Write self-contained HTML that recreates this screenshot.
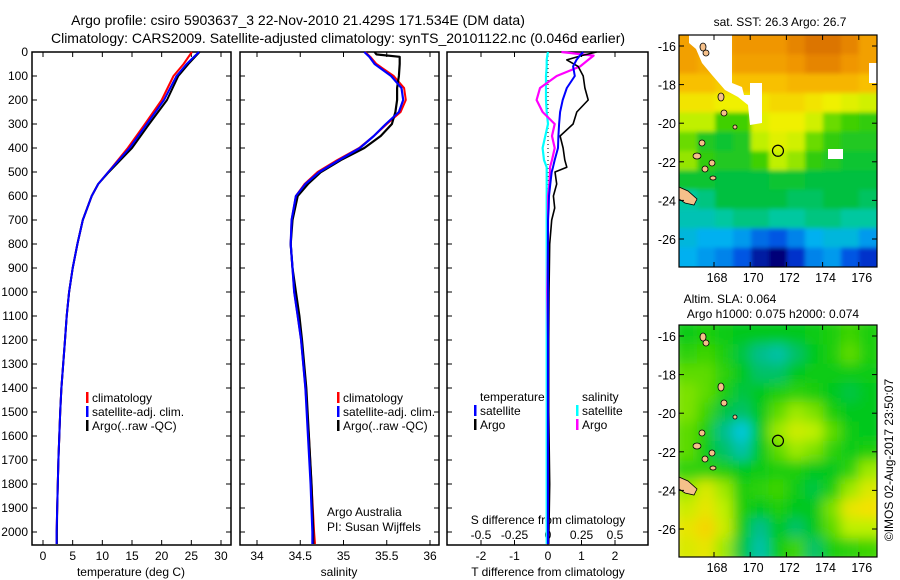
<!DOCTYPE html>
<html><head><meta charset="utf-8"><style>
body{margin:0;background:#fff}
svg{display:block;font-family:"Liberation Sans",sans-serif}
</style></head><body>
<svg id="c" width="900" height="580" viewBox="0 0 900 580"></svg>
<script>
// ---------- profile data ----------
const depthsT = [0,50,100,200,300,400,500,550,600,700,800,900,1000,1100,1200,1300,1400,1500,1600,1700,1800,1900,2000,2050];
const tempArgo = [26.4,24.5,22.8,20.9,17.9,15.0,11.1,9.3,8.2,6.7,5.8,5.0,4.4,4.0,3.7,3.4,3.1,2.9,2.75,2.6,2.5,2.4,2.35,2.35];
const tempClim = [25.1,23.7,22.0,20.0,17.2,14.3,11.0,9.3,8.2,6.7,5.8,5.0,4.4,4.0,3.7,3.4,3.1,2.9,2.75,2.6,2.5,2.4,2.3,2.3];
const tempSat  = [26.3,24.2,22.5,20.4,17.5,14.6,11.0,9.3,8.2,6.7,5.8,5.0,4.4,4.0,3.7,3.4,3.1,2.9,2.75,2.6,2.5,2.4,2.3,2.3];
const depthsS = [0,10,20,50,100,150,200,250,300,350,400,450,500,550,600,700,800,900,1000,1100,1200,1400,1600,1800,2000,2050];
const salArgo = [35.36,35.38,35.65,35.65,35.64,35.62,35.62,35.60,35.56,35.43,35.24,34.97,34.74,34.59,34.47,34.41,34.39,34.41,34.45,34.49,34.52,34.57,34.60,34.63,34.65,34.65];
const salClim = [35.25,35.28,35.31,35.38,35.58,35.70,35.72,35.66,35.50,35.35,35.18,34.93,34.70,34.55,34.45,34.40,34.39,34.41,34.43,34.47,34.51,34.56,34.60,34.63,34.66,34.67];
const salSat  = [35.24,35.27,35.30,35.36,35.55,35.67,35.69,35.64,35.49,35.35,35.19,34.95,34.72,34.56,34.45,34.40,34.39,34.41,34.43,34.47,34.51,34.56,34.59,34.62,34.64,34.64];
const depthsD = [0,15,33,60,100,150,200,250,300,350,400,450,480,500,550,600,650,700,800,1000,1200,1500,1800,2050];
const dTArgo = [1.45,1.0,0.56,0.9,1.05,1.1,1.2,0.86,0.75,0.36,0.45,0.5,0.56,0.21,0.26,0.16,0.2,0.11,0.05,0.03,0.02,0.02,0.05,0.02];
const dTSat  = [1.05,0.95,0.85,0.75,0.8,0.56,0.44,0.36,0.33,0.31,0.3,0.2,0.15,0.11,0.07,0.03,0.02,0.0,0.0,0.0,0.0,0.0,0.0,0.0];
const dSArgo = [0.1,0.34,0.3,0.24,0.065,-0.06,-0.085,-0.04,0.05,0.03,0.05,0.03,0.015,0.015,0.01,0.0,0.0,0.0,0.0,-0.005,0.0,0.0,0.0,0.0];
const dSSat  = [0.0,-0.005,-0.01,-0.01,-0.015,-0.015,-0.015,-0.01,0.0,-0.02,-0.04,-0.03,-0.01,-0.01,-0.01,-0.01,-0.01,-0.01,-0.01,-0.01,-0.01,-0.01,-0.01,-0.01];
const depthTicks = [0,100,200,300,400,500,600,700,800,900,1000,1100,1200,1300,1400,1500,1600,1700,1800,1900,2000];
const tempTicks = [0,5,10,15,20,25,30];
const salTicks = [34,34.5,35,35.5,36];
const dTTicks = [-2,-1,0,1,2];
const dSTicks = [-0.5,-0.25,0,0.25,0.5];
// ---------- map data ----------
const latTicks = [-16,-18,-20,-22,-24,-26];
const lonTicks = [168,170,172,174,176];
const sstGrid = [
 [27.3,27.3,27.3,27.4,27.4,27.4,27.5,27.6,27.6,27.5,27.3],
 [27.3,27.2,27.2,27.3,27.3,27.3,27.4,27.5,27.5,27.4,27.3],
 [27.0,27.0,26.9,27.0,27.0,27.0,27.1,27.1,27.1,27.1,27.0],
 [26.7,26.7,26.6,26.6,26.7,26.8,26.8,26.7,26.6,26.5,26.4],
 [26.3,26.3,26.0,26.0,26.5,26.6,26.6,26.4,26.1,26.0,25.9],
 [26.1,25.8,25.7,25.8,26.3,26.5,26.4,26.1,25.9,25.8,25.8],
 [26.2,25.9,25.8,25.8,26.0,26.3,26.2,25.9,25.8,25.7,25.7],
 [25.7,25.7,25.6,25.6,25.6,25.7,25.7,25.6,25.6,25.6,25.6],
 [25.3,25.4,25.6,25.6,25.6,25.6,25.5,25.5,25.6,25.6,25.5],
 [25.2,25.2,25.3,25.4,25.4,25.3,25.3,25.4,25.4,25.3,25.3],
 [25.0,24.9,24.9,24.8,24.6,24.5,24.7,24.9,25.0,25.0,24.8],
 [24.9,24.8,24.7,24.5,24.1,23.9,24.3,24.7,24.8,24.5,24.3]];
const slaGrid = [
 [.06,.07,.06,.05,.05,.05,.05,.06,.07,.09,.07],
 [.08,.09,.07,.04,.02,.01,.03,.05,.07,.10,.07],
 [.10,.10,.08,.05,.03,.03,.05,.06,.06,.06,.06],
 [.11,.10,.07,.04,.05,.07,.08,.07,.05,.04,.05],
 [.11,.09,.04,.03,.05,.10,.12,.11,.07,.05,.05],
 [.10,.07,.02,-.01,.05,.12,.14,.13,.10,.06,.05],
 [.10,.06,.03,.01,.05,.10,.12,.11,.08,.06,.07],
 [.08,.08,.07,.05,.06,.07,.07,.05,.05,.08,.12],
 [.12,.15,.12,.07,.08,.09,.06,.04,.07,.12,.15],
 [.14,.16,.13,.07,.05,.07,.05,.05,.11,.16,.17],
 [.16,.18,.14,.06,.02,.05,.03,.05,.10,.13,.13],
 [.15,.16,.12,.04,.01,.06,.09,.03,.07,.08,.09]];
const argoLon = 171.534, argoLat = -21.429;

const NS="http://www.w3.org/2000/svg";
const svg=document.getElementById('c');
function el(tag,attrs,parent){const e=document.createElementNS(NS,tag);for(const k in attrs)e.setAttribute(k,attrs[k]);(parent||svg).appendChild(e);return e;}
function txt(s,x,y,anchor,size,parent){const t=el('text',{x:x,y:y,'text-anchor':anchor||'start','font-size':size||12,fill:'#000'},parent);t.textContent=s;return t;}

const yTop=52, yPx=0.24;
const yD=d=>yTop+d*yPx;
const P1={l:32,r:231}, P2={l:240,r:439}, P3={l:447,r:648}, bottom=545;
const xT=v=>43+v*5.933;
const xS=v=>257+(v-34)*86.5;
const xDT=v=>548+v*33.5;
const xDS=v=>548+v*134;

let t=txt('Argo profile: csiro 5903637_3 22-Nov-2010 21.429S 171.534E (DM data)',298,25,'middle',14);

t=txt('Climatology: CARS2009. Satellite-adjusted climatology: synTS_20101122.nc (0.046d earlier)',338,43,'middle',14);


function panel(P,name){
  const g=el('g',{});
  
  
  el('rect',{x:P.l,y:yTop,width:P.r-P.l,height:bottom-yTop,fill:'none',stroke:'#000','stroke-width':1.5},g);
  depthTicks.forEach(d=>{
    el('line',{x1:P.l,x2:P.l+5,y1:yD(d),y2:yD(d),stroke:'#000'},g);
    el('line',{x1:P.r-5,x2:P.r,y1:yD(d),y2:yD(d),stroke:'#000'},g);
  });
  return g;
}
function xticks(g,ticks,fx,labels,ly){
  ticks.forEach(v=>{
    const x=fx(v);
    el('line',{x1:x,x2:x,y1:bottom,y2:bottom-5,stroke:'#000'},g);
    el('line',{x1:x,x2:x,y1:yTop,y2:yTop+5,stroke:'#000'},g);
    if(labels) txt(String(v),x,ly||560,'middle',12,g);
  });
}
function line(g,xs,ds,fx,color,w,name){
  const pts=xs.map((v,i)=>fx(v).toFixed(1)+','+yD(ds[i]).toFixed(1)).join(' ');
  const p=el('polyline',{points:pts,fill:'none',stroke:color,'stroke-width':w||2,'stroke-linejoin':'round'},g);
  
  
  return p;
}
function legend(g,x,y,items){
  items.forEach((it,i)=>{
    if(it[1]) el('rect',{x:x,y:y+i*14-10,width:2.5,height:11,fill:it[1]},g);
    txt(it[0],x+6,y+i*14,'start',12,g);
  });
}

const g1=panel(P1,'temperature-panel');
depthTicks.forEach(d=>txt(String(d),28,yD(d)+4,'end',12,g1));
xticks(g1,tempTicks,xT,true);
txt('temperature (deg C)',131,576,'middle',12,g1);
line(g1,tempClim,depthsT,xT,'#f00',2,'temp-climatology-line');
line(g1,tempArgo,depthsT,xT,'#000',2,'temp-argo-line');
line(g1,tempSat,depthsT,xT,'#00f',2,'temp-satellite-line');
legend(g1,86,402,[['climatology','#f00'],['satellite-adj. clim.','#00f'],['Argo(..raw -QC)','#000']]);

const g2=panel(P2,'salinity-panel');
xticks(g2,salTicks,xS,true);
txt('salinity',339,576,'middle',12,g2);
line(g2,salClim,depthsS,xS,'#f00',2,'sal-climatology-line');
line(g2,salArgo,depthsS,xS,'#000',2.2,'sal-argo-line');
line(g2,salSat,depthsS,xS,'#00f',2.2,'sal-satellite-line');
legend(g2,337,402,[['climatology','#f00'],['satellite-adj. clim.','#00f'],['Argo(..raw -QC)','#000']]);
txt('Argo Australia',327,516,'start',12,g2);
txt('PI: Susan Wijffels',327,531,'start',12,g2);

const g3=panel(P3,'difference-panel');
xticks(g3,dTTicks,xDT,true);
dSTicks.forEach(v=>txt(String(v),xDS(v),539,'middle',12,g3));
txt('S difference from climatology',548,524,'middle',12,g3);
txt('T difference from climatology',548,576,'middle',12,g3);
el('line',{x1:548,x2:548,y1:yTop,y2:bottom,stroke:'#000','stroke-dasharray':'1,3'},g3);
line(g3,dSSat,depthsD,xDS,'#0ff',2.2,'sal-diff-satellite-line');
line(g3,dSArgo,depthsD,xDS,'#f0f',2.2,'sal-diff-argo-line');
line(g3,dTArgo,depthsD,xDT,'#000',1.6,'temp-diff-argo-line');
line(g3,dTSat,depthsD,xDT,'#00f',2,'temp-diff-satellite-line');
legend(g3,474,401,[['temperature',null],['satellite','#00f'],['Argo','#000']]);
legend(g3,576,401,[['salinity',null],['satellite','#0ff'],['Argo','#f0f']]);

// ---------- maps ----------
const sstStops=[[23.9,[0,0,120]],[24.4,[0,64,224]],[24.9,[0,176,240]],[25.3,[0,200,160]],[25.6,[0,192,64]],[26.0,[64,208,0]],[26.3,[192,240,0]],[26.6,[240,240,0]],[27.0,[248,192,0]],[27.4,[240,150,0]],[27.7,[210,100,0]]];
const slaStops=[[-0.01,[0,200,220]],[0.02,[0,190,140]],[0.05,[0,200,30]],[0.09,[60,212,0]],[0.13,[190,240,0]],[0.17,[245,225,0]],[0.2,[248,185,0]]];
function cmap(v,stops){
  if(v<=stops[0][0])return 'rgb('+stops[0][1]+')';
  for(let i=1;i<stops.length;i++){if(v<=stops[i][0]){const a=stops[i-1],b=stops[i],f=(v-a[0])/(b[0]-a[0]);return 'rgb('+a[1].map((c,k)=>Math.round(c+(b[1][k]-c)*f)).join(',')+')';}}
  return 'rgb('+stops[stops.length-1][1]+')';
}
const lonL=166.07, lonR=177.0;
function drawMap(M,grid,stops,name,blur){
  const g=el('g',{});
  
  
  const xL=lon=>714+(lon-168)*18.1;
  const yL=lat=>M.y16+(-16-lat)*M.py;
  const latTop=-16+(M.y16-M.top)/M.py;
  const cid='clip'+name;
  const cp=el('clipPath',{id:cid},g);el('rect',{x:679,y:M.top,width:198,height:M.bot-M.top},cp);
  const fid='f'+name;
  const f=el('filter',{id:fid,x:'-10%',y:'-10%',width:'120%',height:'120%'},g);el('feGaussianBlur',{stdDeviation:blur},f);
  const gi=el('g',{'clip-path':'url(#'+cid+')'},g);
  const gb=el('g',{filter:'url(#'+fid+')'},gi);
  const ncol=grid[0].length, nrow=grid.length;
  const dLon=(lonR-lonL)/ncol;
  const latBot=-16-(M.bot-M.y16)/M.py;
  const dLat=(latTop-latBot)/nrow;
  grid.forEach((row,r)=>row.forEach((v,c)=>{
    const x0=xL(lonL+c*dLon)-(c==0?8:0), x1=xL(lonL+(c+1)*dLon)+(c==ncol-1?8:0);
    const y0=yL(latTop-r*dLat)-(r==0?8:0), y1=yL(latTop-(r+1)*dLat)+(r==nrow-1?8:0);
    const cell=el('rect',{x:x0,y:y0,width:x1-x0+0.6,height:y1-y0+0.6,fill:cmap(v,stops)},gb);
    
    
  }));
  if(M.white){
    el('polygon',{points:`689,${M.top} 732,${M.top} 732,${M.top+48} 742,${M.top+52} 744,${M.top+60} 750,${M.top+60} 750,${M.top+48} 762,${M.top+48} 762,${M.top+88} 750,${M.top+90} 748,${M.top+70} 738,${M.top+62} 725,${M.top+55} 712,${M.top+40} 702,${M.top+28} 696,${M.top+14} 689,${M.top+8}`,fill:'#fff'},gi);
    el('rect',{x:869,y:M.top+28,width:8,height:20,fill:'#fff'},gi);
    el('rect',{x:828,y:M.top+114,width:15,height:10,fill:'#fff'},gi);
  }
  const isl=[[703,M.top+12,3,4],[706,M.top+18,3,3],[721,M.top+62,3,4],[724,M.top+78,3,3],[735,M.top+92,2,2],[702,M.top+108,3,3],[712,M.top+128,3,3],[697,M.top+121,4,3],[705,M.top+134,3,3],[713,M.top+143,3,2]];
  isl.forEach(s=>{el('ellipse',{cx:s[0],cy:s[1],rx:s[2],ry:s[3],fill:'#f5c08a',stroke:'#000','stroke-width':0.8},gi);});
  el('polygon',{points:`679,${M.top+152} 688,${M.top+156} 697,${M.top+164} 694,${M.top+170} 685,${M.top+168} 679,${M.top+164}`,fill:'#f5c08a',stroke:'#000','stroke-width':0.8},gi);
  el('rect',{x:679,y:M.top,width:198,height:M.bot-M.top,fill:'none',stroke:'#000','stroke-width':1.2},g);
  latTicks.forEach(lat=>{const y=yL(lat);
    el('line',{x1:679,x2:684,y1:y,y2:y,stroke:'#000'},g);el('line',{x1:872,x2:877,y1:y,y2:y,stroke:'#000'},g);
    txt(String(lat),676,y+5,'end',12.5,g);});
  lonTicks.forEach(lon=>{const x=xL(lon);
    el('line',{x1:x,x2:x,y1:M.top,y2:M.top+5,stroke:'#000'},g);el('line',{x1:x,x2:x,y1:M.bot,y2:M.bot-5,stroke:'#000'},g);
    txt(String(lon),x+3,M.bot+15,'middle',12.5,g);});
  const c=el('circle',{cx:xL(argoLon),cy:yL(argoLat),r:5.5,fill:'none',stroke:'#000','stroke-width':1.2},g);
  
  
  return g;
}
const m1=drawMap({top:35,bot:267,y16:46,py:19.3,white:true},sstGrid,sstStops,'sst-map',2);
txt('sat. SST: 26.3 Argo: 26.7',780,26,'middle',12,m1);
const m2=drawMap({top:325,bot:557,y16:336,py:19.3,white:false},slaGrid,slaStops,'sla-map',6);
txt('Altim. SLA: 0.064',730,303,'middle',12,m2);
txt('Argo h1000: 0.075 h2000: 0.074',773,318,'middle',12,m2);
const cr=txt('©IMOS 02-Aug-2017 23:50:07',0,0,'middle',12);
cr.setAttribute('transform','translate(893,460) rotate(-90)');


</script>
</body></html>
